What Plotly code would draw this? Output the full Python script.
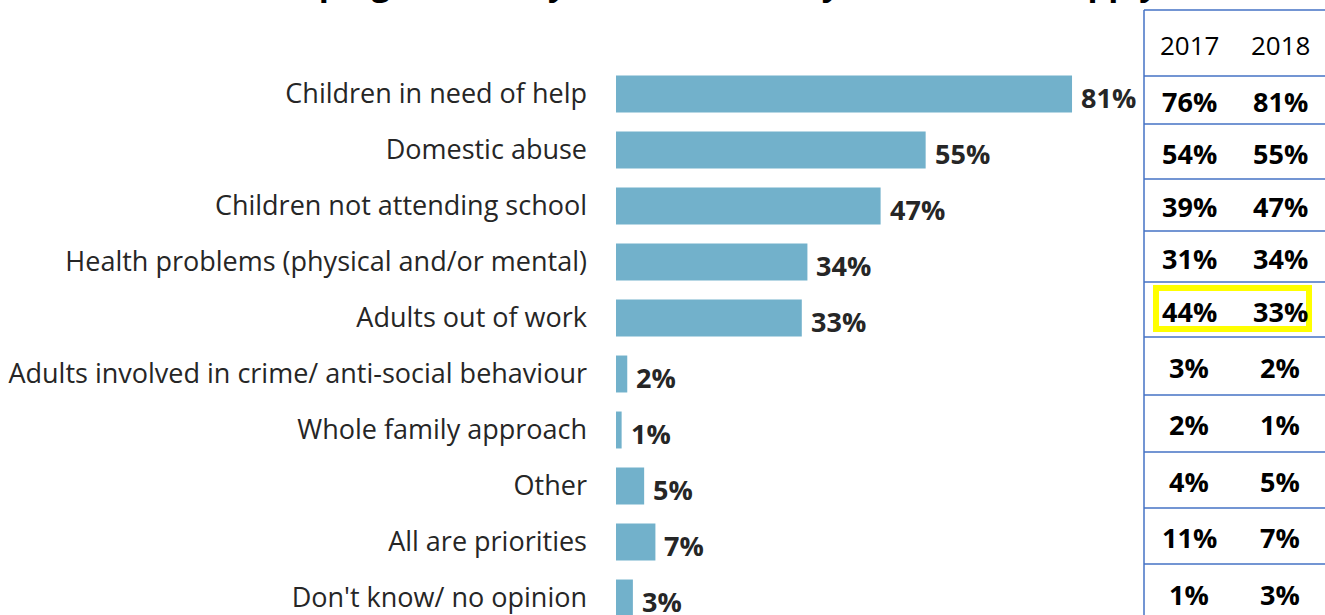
import plotly.graph_objects as go

# Survey responses: priorities for helping families (2018 bars, with 2017 comparison table)
categories = [
    "Children in need of help",
    "Domestic abuse",
    "Children not attending school",
    "Health problems (physical and/or mental)",
    "Adults out of work",
    "Adults involved in crime/ anti-social behaviour",
    "Whole family approach",
    "Other",
    "All are priorities",
    "Don't know/ no opinion",
]
values_2018 = [81, 55, 47, 34, 33, 2, 1, 5, 7, 3]
values_2017 = [76, 54, 39, 31, 44, 3, 2, 4, 11, 1]
years = ["2017", "2018"]
highlight_row = "Adults out of work"

title_text = "Main focus in helping the family most effectively? Tick all that apply"

W, H = 1325, 615
BAR_COLOR = "#72B1CB"
LINE_COLOR = "#4472C4"
FONT = "Open Sans"

# pixel layout
plot_left, plot_right = 616, 1143
px_per_pct = 5.63
row0, row_step = 94, 56

fig = go.Figure()

fig.add_trace(go.Bar(
    x=values_2018,
    y=categories,
    orientation="h",
    marker=dict(color=BAR_COLOR, line=dict(width=0)),
    width=0.66,
    hoverinfo="skip",
    showlegend=False,
))

# value labels to the right of each bar
annotations = []
for cat, v in zip(categories, values_2018):
    annotations.append(dict(
        x=v, y=cat, xref="x", yref="y",
        text=f"<b>{v}%</b>", showarrow=False,
        xanchor="left", yanchor="middle", xshift=7, yshift=-3,
        font=dict(family=FONT, size=27, color="#262626"),
    ))

# comparison table on the right (pixel coordinates on x2/y2)
table_left = 1144
table_top = 10
row_lines = [76, 124, 179, 231, 282, 337, 395, 452, 508, 564]
text_rows = [101, 153, 206, 258, 311, 367, 424, 481, 537, 594]
col_x = [1189, 1280]
header_y = 45

shapes = []
shapes.append(dict(type="line", xref="x2", yref="y2",
                   x0=table_left, x1=W, y0=table_top, y1=table_top,
                   line=dict(color=LINE_COLOR, width=1.5)))
shapes.append(dict(type="line", xref="x2", yref="y2",
                   x0=table_left, x1=table_left, y0=table_top, y1=H,
                   line=dict(color=LINE_COLOR, width=1.5)))
for yl in row_lines:
    shapes.append(dict(type="line", xref="x2", yref="y2",
                       x0=table_left, x1=W, y0=yl, y1=yl,
                       line=dict(color=LINE_COLOR, width=1.5)))

for yr, cx in zip(years, col_x):
    annotations.append(dict(
        x=cx, y=header_y, xref="x2", yref="y2", text=yr, showarrow=False,
        xanchor="center", yanchor="middle",
        font=dict(family=FONT, size=26, color="#000000"),
    ))

for i, (cat, a, b) in enumerate(zip(categories, values_2017, values_2018)):
    for cx, v in zip(col_x, (a, b)):
        annotations.append(dict(
            x=cx, y=text_rows[i], xref="x2", yref="y2",
            text=f"<b>{v}%</b>", showarrow=False,
            xanchor="center", yanchor="middle",
            font=dict(family=FONT, size=27, color="#000000"),
        ))
    if cat == highlight_row:
        shapes.append(dict(type="rect", xref="x2", yref="y2",
                           x0=1156, x1=1309, y0=288, y1=329,
                           line=dict(color="#FFFF00", width=6)))

# title, largely above the visible area
annotations.append(dict(
    x=1160, y=7, xref="x2", yref="y2", text=f"<b>{title_text}</b>",
    showarrow=False, xanchor="right", yanchor="bottom",
    font=dict(family=FONT, size=33, color="#000000"),
))

fig.update_layout(
    width=W, height=H,
    margin=dict(l=0, r=0, t=0, b=0),
    paper_bgcolor="white", plot_bgcolor="rgba(0,0,0,0)",
    bargap=0.34,
    xaxis=dict(
        domain=[plot_left / W, plot_right / W],
        range=[0, (plot_right - plot_left) / px_per_pct],
        visible=False, fixedrange=True,
    ),
    yaxis=dict(
        domain=[0, 1],
        range=[(H - row0) / row_step, -row0 / row_step],
        showgrid=False, zeroline=False, showline=False,
        ticks="", ticklabelstandoff=28,
        tickfont=dict(family=FONT, size=27, color="#262626"),
        fixedrange=True,
    ),
    xaxis2=dict(domain=[0, 1], range=[0, W], visible=False, fixedrange=True,
                anchor="y2"),
    yaxis2=dict(domain=[0, 1], range=[H, 0], visible=False, fixedrange=True,
                anchor="x2"),
    shapes=shapes,
    annotations=annotations,
)

# invisible trace to activate the pixel axes
fig.add_trace(go.Scatter(x=[0], y=[0], xaxis="x2", yaxis="y2", mode="markers",
                         marker=dict(opacity=0), hoverinfo="skip", showlegend=False))

fig.write_html("out.html")
